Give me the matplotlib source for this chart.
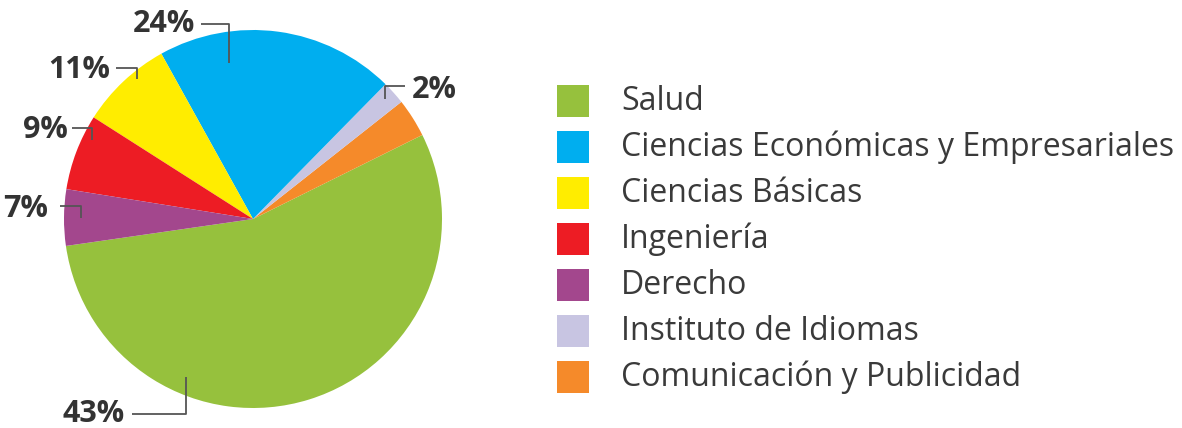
import matplotlib
matplotlib.use("Agg")
import matplotlib.pyplot as plt
from matplotlib.patches import Rectangle

# Data (legend order)
categories = ["Salud", "Ciencias Económicas y Empresariales", "Ciencias Básicas",
              "Ingeniería", "Derecho", "Instituto de Idiomas", "Comunicación y Publicidad"]
# slice sizes as drawn in the picture (share of the circle, %)
drawn_share = [55.0, 20.4, 7.9, 6.5, 4.8, 2.0, 3.3]
# printed labels
pct_labels = ["43%", "24%", "11%", "9%", "7%", "2%", ""]
colors = ["#96C13D", "#00AEEF", "#FFED00", "#ED1C24", "#A3478D", "#C8C5E2", "#F58A2A"]

# drawing order around the circle (counter-clockwise from the Salud/Derecho edge)
order = [0, 6, 5, 1, 2, 3, 4]

W, H = 1182, 428
fig = plt.figure(figsize=(W / 100, H / 100), dpi=100)
ax = fig.add_axes([0, 0, 1, 1])

cx, cy, r = 253, H - 219, 189
ax.pie([drawn_share[i] for i in order], colors=[colors[i] for i in order],
       startangle=188.2, counterclock=True, radius=r, center=(cx, cy),
       wedgeprops=dict(linewidth=0), frame=True)
ax.set_xlim(0, W)
ax.set_ylim(0, H)
ax.set_aspect("equal")
ax.axis("off")

# percentage labels with bracket leader lines (layout in pixel coords)
label_layout = {
    0: (94, 414, [(132, 414), (186, 414), (186, 377)]),
    1: (164, 24, [(201, 24), (229, 24), (229, 63)]),
    2: (79, 70, [(116, 68), (137, 68), (137, 79)]),
    3: (45, 130, [(72, 128), (92, 128), (92, 140)]),
    4: (26, 209, [(60, 206), (81, 206), (81, 218)]),
    5: (434, 90, [(405, 86), (385, 86), (385, 99)]),
}
lc = "#555555"
for i, (tx, ty, pts) in label_layout.items():
    ax.text(tx, H - ty, pct_labels[i], ha="center", va="center", fontsize=22,
            fontweight="bold", family="Open Sans", color="#333333")
    xs = [p[0] for p in pts]
    ys = [H - p[1] for p in pts]
    ax.plot(xs, ys, color=lc, lw=1.3, solid_capstyle="butt")

# legend
lx, ly0, step, sz = 557, 101, 46, 32
for k, name in enumerate(categories):
    yc = ly0 + k * step
    ax.add_patch(Rectangle((lx, H - yc - sz / 2), sz, sz, color=colors[k], lw=0))
    ax.text(621, H - yc, name, ha="left", va="center", fontsize=23,
            family="Open Sans", color="#3a3a3a")

fig.savefig("out.png", dpi=100)
